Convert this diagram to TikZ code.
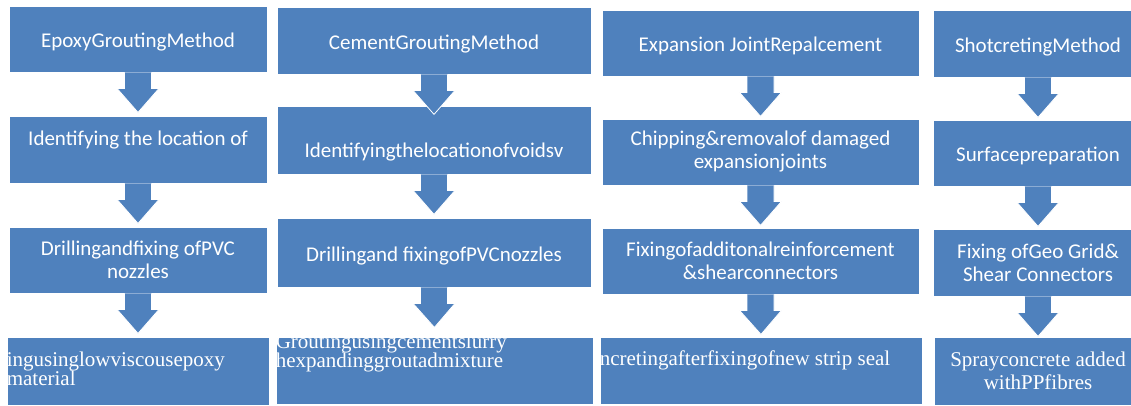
\documentclass[tikz,border=0pt]{standalone}
\usepackage{fontspec}
\setmainfont{Liberation Serif}
\newfontfamily\boxsans{Carlito}
\usetikzlibrary{calc}
\definecolor{boxblue}{HTML}{4F81BD}
\tikzstyle{stepbox} = [rectangle, inner sep=0pt, fill=boxblue, draw=white, line width=0.8pt, text=white, align=center, font=\boxsans\fontsize{21}{23}\selectfont, execute at begin node={\rule{0pt}{21pt}}]
\tikzstyle{lastbox} = [rectangle, inner sep=0pt, fill=boxblue, draw=white, line width=0.8pt, text=white, align=center, font=\rmfamily\fontsize{21}{23}\selectfont]
\tikzstyle{lasttext} = [anchor=north west, inner sep=0pt, text=white, align=left, font=\rmfamily\fontsize{21}{19.5}\selectfont]
\tikzstyle{downarrow} = [fill=boxblue, draw=white, line width=0.8pt]
% block arrow from the bottom of one box towards the next
\newcommand{\downblock}[2]{%
  \filldraw[downarrow] ($(#1.south)+(-13.5,0)$) -- ++(0,16) -- ++(-7.5,0) -- ($(#1.south)!40pt!(#2.north)$) -- ($(#1.south)+(21,16)$) -- ++(-7.5,0) -- ++(0,-16);
}

\begin{document}
\begin{tikzpicture}[x=1pt,y=-1pt]
			\useasboundingbox (0,0) rectangle (1131,406);
			\clip (0,0) rectangle (1131,406);
			% epoxy grouting
			\node[stepbox, minimum width=258pt, minimum height=66pt](epoxy1) at (138,39){EpoxyGroutingMethod};
			\node[stepbox, minimum width=258pt, minimum height=67pt](epoxy2) at (138,149.5){Identifying the location of\\\mbox{}};
			\node[stepbox, minimum width=258pt, minimum height=66pt](epoxy3) at (138,260){Drillingandfixing ofPVC\\nozzles};
			\node[lastbox, minimum width=262pt, minimum height=68pt, label={[lasttext, yshift=-15pt]north west:ingusinglowviscousepoxy\\material}](epoxy4) at (138,371){};
			% cement grouting
			\node[stepbox, minimum width=314pt, minimum height=67pt](cement1) at (434,40.5){CementGroutingMethod};
			\node[stepbox, minimum width=314pt, minimum height=68pt](cement2) at (434,140){\mbox{}\\[16pt]Identifyingthelocationofvoidsv};
			\node[stepbox, minimum width=314pt, minimum height=69pt](cement3) at (434,252.5){Drillingand fixingofPVCnozzles};
			\node[lastbox, minimum width=317pt, minimum height=67pt, label={[lasttext, yshift=3pt]north west:Groutingusingcementslurry\\hexpandinggroutadmixture}](cement4) at (434.5,370.5){};
			% expansion joint
			\node[stepbox, minimum width=317pt, minimum height=66pt](joint1) at (760.5,43){Expansion JointRepalcement};
			\node[stepbox, minimum width=317pt, minimum height=66pt](joint2) at (760.5,152){Chipping\&removalof damaged\\expansionjoints};
			\node[stepbox, minimum width=317pt, minimum height=66pt](joint3) at (760.5,261){Fixingofadditonalreinforcement\\\&shearconnectors};
			\node[lastbox, minimum width=322pt, minimum height=67pt, label={[lasttext, yshift=-14pt]north west:ncretingafterfixingofnew strip seal}](joint4) at (761,370.5){};
			% shotcreting
			\node[stepbox, minimum width=210pt, minimum height=67pt](shot1) at (1038,43.5){ShotcretingMethod};
			\node[stepbox, minimum width=210pt, minimum height=66pt](shot2) at (1038,153){Surfacepreparation};
			\node[stepbox, minimum width=210pt, minimum height=67pt](shot3) at (1038,262.5){Fixing ofGeo Grid\&\\Shear Connectors};
			\node[lastbox, minimum width=208pt, minimum height=68pt](shot4) at (1038,371){Sprayconcrete added\\withPPfibres};
			% arrows
			\downblock{epoxy1}{epoxy2}
			\downblock{epoxy2}{epoxy3}
			\downblock{epoxy3}{epoxy4}
			\downblock{cement1}{cement2}
			\downblock{cement2}{cement3}
			\downblock{cement3}{cement4}
			\downblock{joint1}{joint2}
			\downblock{joint2}{joint3}
			\downblock{joint3}{joint4}
			\downblock{shot1}{shot2}
			\downblock{shot2}{shot3}
			\downblock{shot3}{shot4}
		\end{tikzpicture}
\end{document}
